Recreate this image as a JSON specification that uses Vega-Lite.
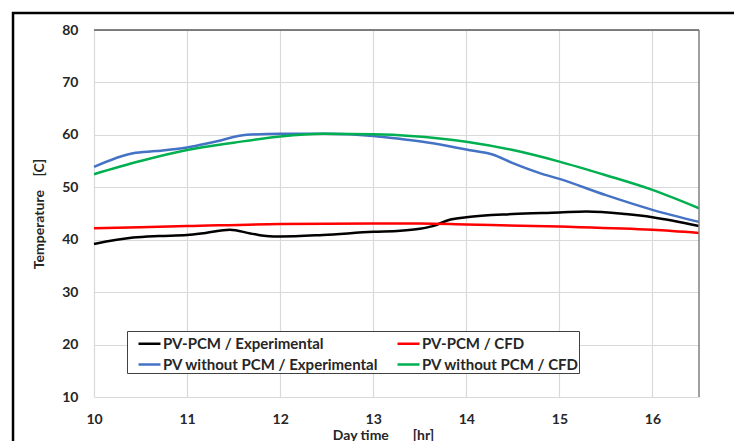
{
  "$schema": "https://vega.github.io/schema/vega-lite/v6.json",
  "width": 605,
  "height": 367,
  "autosize": {"type": "none"},
  "padding": {"left": 94, "top": 30, "right": 35, "bottom": 44},
  "background": "white",
  "config": {
    "view": {"stroke": null},
    "font": "Lato",
    "axis": {
      "titleFont": "Lato", "titleFontSize": 14, "titleFontWeight": "bold", "titleColor": "#262626",
      "labelFont": "Lato", "labelFontSize": 14, "labelFontWeight": "bold", "labelColor": "#262626",
      "labelFlush": false,
      "ticks": false, "domain": false,
      "grid": true, "gridColor": "#d9d9d9", "gridWidth": 1.2
    }
  },
  "datasets": {
    "series": [
      {"series": "PV-PCM / Experimental", "hour": 10, "temp": 39.2},
      {"series": "PV-PCM / Experimental", "hour": 10.42, "temp": 40.4},
      {"series": "PV-PCM / Experimental", "hour": 10.7, "temp": 40.7},
      {"series": "PV-PCM / Experimental", "hour": 11, "temp": 40.9},
      {"series": "PV-PCM / Experimental", "hour": 11.2, "temp": 41.3},
      {"series": "PV-PCM / Experimental", "hour": 11.46, "temp": 41.9},
      {"series": "PV-PCM / Experimental", "hour": 11.68, "temp": 41.2},
      {"series": "PV-PCM / Experimental", "hour": 11.85, "temp": 40.7},
      {"series": "PV-PCM / Experimental", "hour": 12, "temp": 40.6},
      {"series": "PV-PCM / Experimental", "hour": 12.46, "temp": 40.9},
      {"series": "PV-PCM / Experimental", "hour": 13, "temp": 41.5},
      {"series": "PV-PCM / Experimental", "hour": 13.29, "temp": 41.7},
      {"series": "PV-PCM / Experimental", "hour": 13.5, "temp": 42.1},
      {"series": "PV-PCM / Experimental", "hour": 13.64, "temp": 42.6},
      {"series": "PV-PCM / Experimental", "hour": 13.82, "temp": 43.8},
      {"series": "PV-PCM / Experimental", "hour": 14, "temp": 44.3},
      {"series": "PV-PCM / Experimental", "hour": 14.5, "temp": 44.9},
      {"series": "PV-PCM / Experimental", "hour": 15, "temp": 45.2},
      {"series": "PV-PCM / Experimental", "hour": 15.29, "temp": 45.4},
      {"series": "PV-PCM / Experimental", "hour": 15.71, "temp": 44.9},
      {"series": "PV-PCM / Experimental", "hour": 16, "temp": 44.3},
      {"series": "PV-PCM / Experimental", "hour": 16.5, "temp": 42.6},
      {"series": "PV-PCM / CFD", "hour": 10, "temp": 42.2},
      {"series": "PV-PCM / CFD", "hour": 11, "temp": 42.6},
      {"series": "PV-PCM / CFD", "hour": 12, "temp": 43.0},
      {"series": "PV-PCM / CFD", "hour": 13, "temp": 43.1},
      {"series": "PV-PCM / CFD", "hour": 13.5, "temp": 43.1},
      {"series": "PV-PCM / CFD", "hour": 14, "temp": 42.9},
      {"series": "PV-PCM / CFD", "hour": 15, "temp": 42.5},
      {"series": "PV-PCM / CFD", "hour": 16, "temp": 41.9},
      {"series": "PV-PCM / CFD", "hour": 16.5, "temp": 41.3},
      {"series": "PV without PCM / Experimental", "hour": 10, "temp": 53.9},
      {"series": "PV without PCM / Experimental", "hour": 10.42, "temp": 56.5},
      {"series": "PV without PCM / Experimental", "hour": 10.67, "temp": 56.9},
      {"series": "PV without PCM / Experimental", "hour": 11, "temp": 57.6},
      {"series": "PV without PCM / Experimental", "hour": 11.3, "temp": 58.7},
      {"series": "PV without PCM / Experimental", "hour": 11.64, "temp": 60.0},
      {"series": "PV without PCM / Experimental", "hour": 12, "temp": 60.2},
      {"series": "PV without PCM / Experimental", "hour": 12.5, "temp": 60.2},
      {"series": "PV without PCM / Experimental", "hour": 13, "temp": 59.8},
      {"series": "PV without PCM / Experimental", "hour": 13.3, "temp": 59.2},
      {"series": "PV without PCM / Experimental", "hour": 13.64, "temp": 58.4},
      {"series": "PV without PCM / Experimental", "hour": 14, "temp": 57.2},
      {"series": "PV without PCM / Experimental", "hour": 14.29, "temp": 56.2},
      {"series": "PV without PCM / Experimental", "hour": 14.5, "temp": 54.6},
      {"series": "PV without PCM / Experimental", "hour": 14.79, "temp": 52.7},
      {"series": "PV without PCM / Experimental", "hour": 15, "temp": 51.6},
      {"series": "PV without PCM / Experimental", "hour": 15.5, "temp": 48.5},
      {"series": "PV without PCM / Experimental", "hour": 16, "temp": 45.7},
      {"series": "PV without PCM / Experimental", "hour": 16.5, "temp": 43.4},
      {"series": "PV without PCM / CFD", "hour": 10, "temp": 52.5},
      {"series": "PV without PCM / CFD", "hour": 10.5, "temp": 55.0},
      {"series": "PV without PCM / CFD", "hour": 11, "temp": 57.1},
      {"series": "PV without PCM / CFD", "hour": 11.5, "temp": 58.5},
      {"series": "PV without PCM / CFD", "hour": 12, "temp": 59.7},
      {"series": "PV without PCM / CFD", "hour": 12.46, "temp": 60.2},
      {"series": "PV without PCM / CFD", "hour": 13, "temp": 60.1},
      {"series": "PV without PCM / CFD", "hour": 13.4, "temp": 59.8},
      {"series": "PV without PCM / CFD", "hour": 14, "temp": 58.7},
      {"series": "PV without PCM / CFD", "hour": 14.5, "temp": 57.1},
      {"series": "PV without PCM / CFD", "hour": 15, "temp": 54.9},
      {"series": "PV without PCM / CFD", "hour": 15.5, "temp": 52.3},
      {"series": "PV without PCM / CFD", "hour": 16, "temp": 49.5},
      {"series": "PV without PCM / CFD", "hour": 16.5, "temp": 46.0}
    ],
    "frame": [{"kind": "frame"}]
  },
  "data": {"name": "series"},
  "layer": [
    {
      "mark": {"type": "line", "interpolate": "monotone", "strokeWidth": 2.5},
      "encoding": {
        "x": {
          "field": "hour", "type": "quantitative",
          "scale": {"domain": [10, 16.5], "nice": false, "zero": false},
          "axis": {
            "values": [10, 11, 12, 13, 14, 15, 16],
            "format": "d",
            "title": "Day time\u00a0\u00a0\u00a0\u00a0\u00a0\u00a0\u00a0[hr]",
            "titleX": 289,
            "titlePadding": 2,
            "labelPadding": 15
          }
        },
        "y": {
          "field": "temp", "type": "quantitative",
          "scale": {"domain": [10, 80], "nice": false, "zero": false},
          "axis": {
            "values": [10, 20, 30, 40, 50, 60, 70, 80],
            "format": "d",
            "title": "Temperature\u00a0\u00a0\u00a0\u00a0[C]",
            "titlePadding": 15,
            "labelPadding": 16
          }
        },
        "color": {
          "field": "series", "type": "nominal",
          "scale": {
            "domain": ["PV-PCM / Experimental", "PV-PCM / CFD", "PV without PCM / Experimental", "PV without PCM / CFD"],
            "range": ["#000000", "#ff0000", "#4472c4", "#00b050"]
          },
          "legend": {
            "title": null,
            "orient": "none",
            "legendX": 33,
            "legendY": 301,
            "columns": 2,
            "direction": "horizontal",
            "gridAlign": "all",
            "symbolType": "stroke",
            "symbolSize": 484,
            "symbolStrokeWidth": 2.5,
            "labelFont": "Lato", "labelFontSize": 15, "labelFontWeight": "bold", "labelColor": "#262626",
            "labelLimit": 400,
            "labelOffset": 1,
            "strokeColor": "#404040",
            "fillColor": "white",
            "padding": 0,
            "symbolOffset": 10,
            "rowPadding": 0,
            "columnPadding": 7
          }
        }
      }
    },
    {
      "data": {"name": "frame"},
      "mark": {"type": "rect", "fill": null, "fillOpacity": 0, "stroke": "black", "strokeWidth": 2.5},
      "encoding": {
        "x": {"datum": 9.13, "type": "quantitative"},
        "x2": {"datum": 17.6},
        "y": {"datum": 83.24, "type": "quantitative"},
        "y2": {"datum": -2}
      }
    },
    {
      "data": {"name": "frame"},
      "mark": {"type": "rule", "stroke": "#595959", "strokeWidth": 1.5},
      "encoding": {
        "x": {"datum": 10, "type": "quantitative"},
        "x2": {"datum": 16.5},
        "y": {"datum": 80, "type": "quantitative"}
      }
    },
    {
      "data": {"name": "frame"},
      "mark": {"type": "rule", "stroke": "#7f7f7f", "strokeWidth": 1.5},
      "encoding": {
        "x": {"datum": 16.5, "type": "quantitative"},
        "y": {"datum": 10, "type": "quantitative"},
        "y2": {"datum": 80}
      }
    }
  ]
}
